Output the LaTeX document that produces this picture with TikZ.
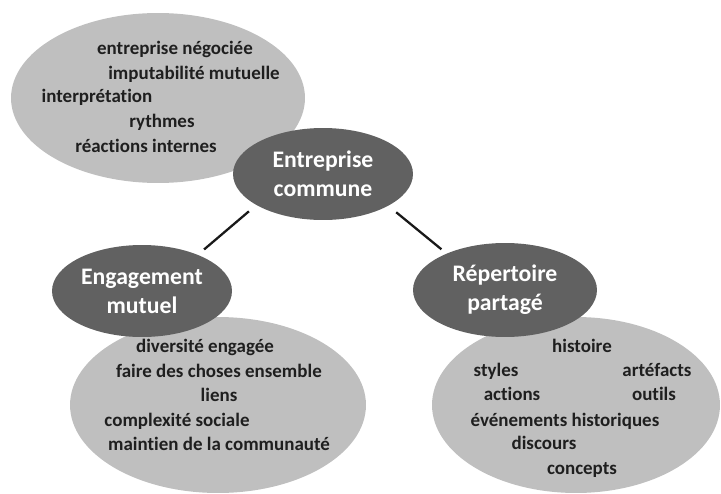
\documentclass[tikz,border=0pt]{standalone}
\usepackage{fontspec}
\setmainfont[Ligatures=NoCommon]{Carlito}
\usepackage{tikz}
\usetikzlibrary{shapes.geometric}
\colorlet{lightgrey}{black!25}
\colorlet{darkgrey}{black!62}
\colorlet{textgrey}{black!88}

\tikzset{
  cloud/.style={ellipse,fill=lightgrey,inner sep=0pt},
  head/.style={ellipse,fill=darkgrey,inner sep=0pt,text=white,align=center,
    font=\fontsize{13.5}{16.4}\selectfont\bfseries},
  word/.style={inner sep=0pt,text=textgrey,text height=1.2ex,text depth=0.2ex,
    font=\fontsize{10.8}{13}\selectfont\bfseries},
  link/.style={line width=1.3pt,black!90}
}

\begin{document}
\begin{tikzpicture}[x=0.02cm,y=-0.02cm]

      \useasboundingbox (0,0) rectangle (721,494);

      \node [cloud,minimum width=5.88cm,minimum height=3.4cm] (top) at (158,98) {};
      \node [word] (w1) at (175,50) {entreprise négociée};
      \node [word] (w2) at (194,75) {imputabilité mutuelle};
      \node [word] (w3) at (97,98) {interprétation};
      \node [word] (w4) at (162,123) {rythmes};
      \node [word] (w5) at (146,148) {réactions internes};

      \node [head,minimum width=3.6cm,minimum height=1.84cm] (ec) at (323,174) {Entreprise\\commune};

      \node [cloud,minimum width=5.92cm,minimum height=3.52cm] (left) at (218,405) {};
      \node [head,minimum width=3.6cm,minimum height=1.84cm] (em) at (142,291) {Engagement\\mutuel};
      \node [word] (l1) at (205,348) {diversité engagée};
      \node [word] (l2) at (219,373) {faire des choses ensemble};
      \node [word] (l3) at (219,397) {liens};
      \node [word] (l4) at (177,422) {complexité sociale};
      \node [word] (l5) at (219,446) {maintien de la communauté};

      \node [cloud,minimum width=5.76cm,minimum height=3.52cm] (right) at (576,405) {};
      \node [head,minimum width=3.68cm,minimum height=1.88cm] (rp) at (505,290) {Répertoire\\partagé};
      \node [word] (r1) at (582,348) {histoire};
      \node [word] (r2) at (496,372) {styles};
      \node [word] (r3) at (657,372) {artéfacts};
      \node [word] (r4) at (512,396) {actions};
      \node [word] (r5) at (654,396) {outils};
      \node [word] (r6) at (565,422) {événements historiques};
      \node [word] (r7) at (544,445) {discours};
      \node [word] (r8) at (582,470) {concepts};

      \draw [link,shorten <=0.19cm,shorten >=0.16cm] (ec.205) -- (em.33);
      \draw [link,shorten <=0.2cm,shorten >=0.13cm] (ec.334) -- (rp.148);

    \end{tikzpicture}
\end{document}
